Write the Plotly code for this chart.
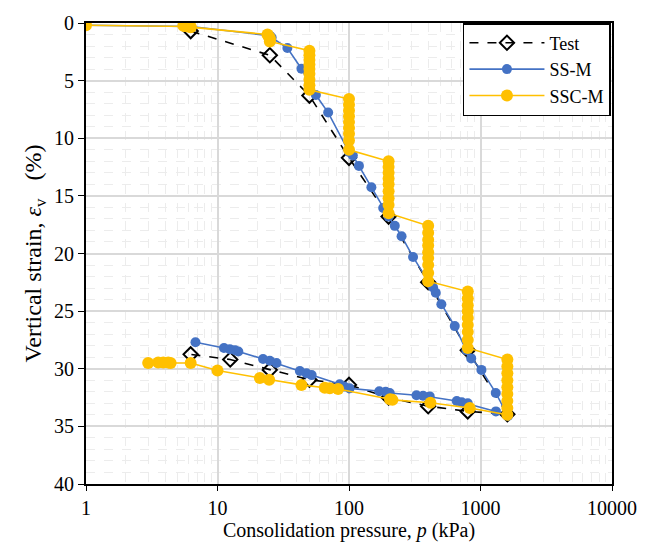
import plotly.graph_objects as go

# ---- Data ----
test_p = [6.25, 25, 50, 100, 200, 400, 800, 1600,
          800, 400, 200, 100, 50, 25, 12.5, 6.25]
test_e = [0.7, 2.8, 6.3, 11.7, 16.8, 22.5, 28.4, 33.95,
          33.7, 33.25, 32.5, 31.4, 30.95, 30.1, 29.2, 28.75]

ssm_p = [1, 5.5, 6.0, 6.25, 25, 25.8, 34, 43.5, 56, 69.4, 100, 107, 119, 148, 182, 200, 223,
         251, 307, 399, 436, 457, 504, 637, 781, 850, 1016, 1306, 1618,
         1310, 800, 720, 660, 411, 366, 326, 204, 190, 170, 101, 92, 85,
         52, 47.5, 42.3, 28.1, 25, 22.2, 14.4, 13.6, 12.4, 11.2, 6.8]
ssm_e = [0.2, 0.25, 0.28, 0.3, 1.1, 1.26, 2.17, 3.97, 6.25, 7.77, 11.2, 11.5, 12.4, 14.25, 16.05, 16.8, 17.6,
         18.5, 20.3, 22.4, 22.95, 23.4, 24.4, 26.3, 28.4, 29.1, 30.1, 32.1, 34.1,
         33.7, 33.0, 32.9, 32.8, 32.4, 32.35, 32.3, 32.1, 32.0, 31.95, 31.7, 31.55, 31.35,
         30.55, 30.4, 30.2, 29.5, 29.3, 29.15, 28.5, 28.4, 28.3, 28.2, 27.7]

sscm_p = [1, 5.5, 5.8, 6.0, 6.25, 6.25,
          24, 24.5, 25, 25, 25,
          50, 50, 50, 50, 50, 50, 50, 50, 50,
          100, 100, 100, 100, 100, 100, 100, 100, 100,
          200, 200, 200, 200, 200, 200, 200, 200, 200,
          400, 400, 400, 400, 400, 400, 400, 400, 400,
          800, 800, 800, 800, 800, 800, 800, 800, 800,
          1600, 1600, 1600, 1600, 1600, 1600, 1600, 1600, 1600,
          828, 416, 214, 205, 82.7, 71.5, 65.5, 43.5, 24.7, 21, 10, 6.25,
          4.4, 4.22, 3.87, 3.54, 2.97]
sscm_e = [0.2, 0.25, 0.28, 0.3, 0.33, 0.36,
          1.0, 1.15, 1.3, 1.45, 1.6,
          2.4, 2.8, 3.2, 3.6, 4.0, 4.4, 4.9, 5.4, 5.8,
          6.6, 7.1, 7.6, 8.1, 8.6, 9.1, 9.6, 10.2, 11.0,
          12.0, 12.5, 13.0, 13.5, 14.0, 14.6, 15.2, 15.8, 16.5,
          17.6, 18.2, 18.8, 19.3, 19.9, 20.4, 21.0, 21.7, 22.4,
          23.3, 23.9, 24.5, 25.0, 25.6, 26.2, 26.8, 27.5, 28.2,
          29.2, 29.8, 30.4, 31.0, 31.6, 32.2, 32.8, 33.4, 34.0,
          33.4, 32.95, 32.7, 32.65, 31.75, 31.7, 31.65, 31.4, 30.95, 30.8, 30.15, 29.5,
          29.5, 29.45, 29.45, 29.45, 29.5]

x_ticks = [1, 10, 100, 1000, 10000]
y_ticks = [0, 5, 10, 15, 20, 25, 30, 35, 40]

BLUE = "#4472C4"
YELLOW = "#FFC000"
FONT = "Liberation Serif"

fig = go.Figure()
fig.add_trace(go.Scatter(
    x=test_p, y=test_e, name="Test", mode="lines+markers",
    line=dict(color="black", width=1.6, dash="dash"),
    marker=dict(symbol="diamond-open", size=11, color="black", line=dict(width=2, color="black")),
))
fig.add_trace(go.Scatter(
    x=ssm_p, y=ssm_e, name="SS-M", mode="lines+markers",
    line=dict(color=BLUE, width=1.6),
    marker=dict(symbol="circle", size=10, color=BLUE),
))
fig.add_trace(go.Scatter(
    x=sscm_p, y=sscm_e, name="SSC-M", mode="lines+markers",
    line=dict(color=YELLOW, width=1.6),
    marker=dict(symbol="circle", size=12, color=YELLOW),
))

fig.update_layout(
    width=655, height=552,
    margin=dict(l=86, r=43, t=17, b=68),
    paper_bgcolor="white", plot_bgcolor="white",
    font=dict(family=FONT, size=20, color="black"),
    showlegend=True,
    legend=dict(
        x=0.998, y=1.0, xanchor="right", yanchor="top",
        bgcolor="white", bordercolor="black", borderwidth=1.5,
        font=dict(family=FONT, size=18), tracegroupgap=0,
        itemwidth=75,
    ),
)
fig.update_xaxes(
    type="log", range=[0, 4],
    tickvals=x_ticks, ticktext=[str(v) for v in x_ticks],
    showline=True, linecolor="black", linewidth=2, mirror=True,
    ticks="outside", ticklen=5, tickcolor="black",
    showgrid=True, gridcolor="#d9d9d9", gridwidth=1.5,
    minor=dict(dtick="D1", showgrid=True, gridcolor="#ececec", griddash="dash", gridwidth=1, ticks=""),
    zeroline=False,
    title=dict(text="Consolidation pressure, <i>p</i> (kPa)", standoff=4,
               font=dict(family=FONT, size=20)),
    tickfont=dict(family=FONT, size=20),
)
fig.update_yaxes(
    range=[40, 0],
    tickvals=y_ticks,
    showline=True, linecolor="black", linewidth=2, mirror=True,
    ticks="outside", ticklen=6, tickcolor="black",
    showgrid=True, gridcolor="#d9d9d9", gridwidth=1.5,
    minor=dict(dtick=1, showgrid=True, gridcolor="#ececec", griddash="dash", gridwidth=1, ticks=""),
    zeroline=False,
    title=dict(text="Vertical strain, <i>ε</i><sub>v</sub>&nbsp;&nbsp;&nbsp;(%)", standoff=6,
               font=dict(family=FONT, size=24)),
    tickfont=dict(family=FONT, size=20),
)

fig.write_html("out.html")
